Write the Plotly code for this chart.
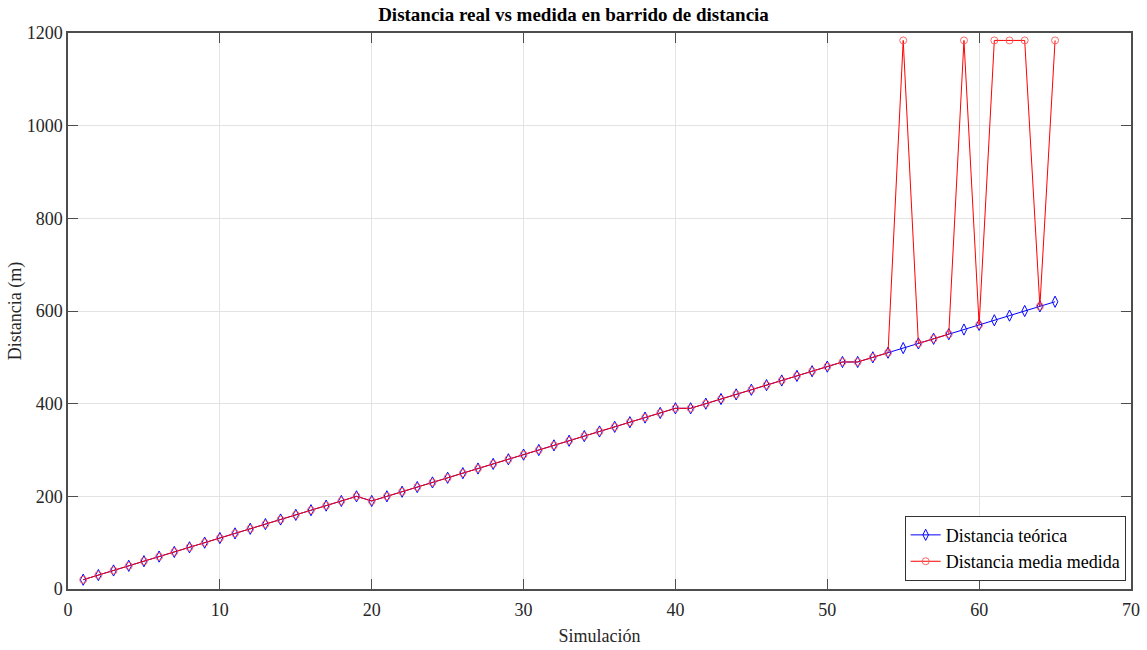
import plotly.graph_objects as go

# Simulation index
sim = list(range(1, 66))

# Theoretical distance per simulation (m)
dist_teorica = [20, 30, 40, 50, 60, 70, 80, 90, 100, 110,
                120, 130, 140, 150, 160, 170, 180, 190, 200, 190,
                200, 210, 220, 230, 240, 250, 260, 270, 280, 290,
                300, 310, 320, 330, 340, 350, 360, 370, 380, 390,
                390, 400, 410, 420, 430, 440, 450, 460, 470, 480,
                490, 490, 500, 510, 520, 530, 540, 550, 560, 570,
                580, 590, 600, 610, 620]

# Mean measured distance per simulation (m)
dist_medida = [20, 30, 40, 50, 60, 70, 80, 90, 100, 110,
               120, 130, 140, 150, 160, 170, 180, 190, 200, 190,
               200, 210, 220, 230, 240, 250, 260, 270, 280, 290,
               300, 310, 320, 330, 340, 350, 360, 370, 380, 390,
               390, 400, 410, 420, 430, 440, 450, 460, 470, 480,
               490, 490, 500, 510, 1184, 530, 540, 550, 1184, 570,
               1184, 1184, 1184, 610, 1184]

font_family = "Liberation Serif, Times New Roman, serif"
axis_col = "#4d4d4d"
grid_col = "#e3e3e3"

fig = go.Figure()
fig.add_trace(go.Scatter(
    x=sim, y=dist_teorica, mode="lines+markers", name="Distancia teórica",
    line=dict(color="#0000ff", width=1),
    marker=dict(symbol="diamond-tall-open", size=8, color="#0000ff",
                line=dict(width=1, color="#0000ff")),
))
fig.add_trace(go.Scatter(
    x=sim, y=dist_medida, mode="lines+markers", name="Distancia media medida",
    line=dict(color="#ff0000", width=1),
    marker=dict(symbol="circle-open", size=7, color="rgba(255,80,80,0.85)",
                line=dict(width=1, color="rgba(255,80,80,0.85)")),
))

axis_common = dict(
    showgrid=True, gridcolor=grid_col, gridwidth=1,
    showline=True, linecolor=axis_col, linewidth=1.5, mirror="ticks",
    ticks="inside", ticklen=10, tickcolor=axis_col, tickwidth=1,
    zeroline=False, automargin=False,
    tickfont=dict(family=font_family, size=18, color="#262626"),
)

fig.update_layout(
    width=1147, height=650,
    margin=dict(l=68, r=16, t=33, b=61),
    paper_bgcolor="white", plot_bgcolor="white",
    title=dict(text="<b>Distancia real vs medida en barrido de distancia</b>",
               x=0.5, xanchor="center", y=0.988, yanchor="top",
               font=dict(family=font_family, size=19, color="black"),
               automargin=False),
    xaxis=dict(range=[0, 70], dtick=10, ticklabelstandoff=4,
               title=dict(text="Simulación", standoff=10,
                          font=dict(family=font_family, size=18, color="#262626")),
               **axis_common),
    yaxis=dict(range=[0, 1200], dtick=200,
               title=dict(text="Distancia (m)", standoff=0,
                          font=dict(family=font_family, size=18, color="#262626")),
               **axis_common),
    legend=dict(x=0.995, y=0.015, xanchor="right", yanchor="bottom",
                bgcolor="white", bordercolor="#333333", borderwidth=1,
                font=dict(family=font_family, size=18, color="black"),
                tracegroupgap=0, itemwidth=30),
    showlegend=True,
)

fig.write_html("out.html")
